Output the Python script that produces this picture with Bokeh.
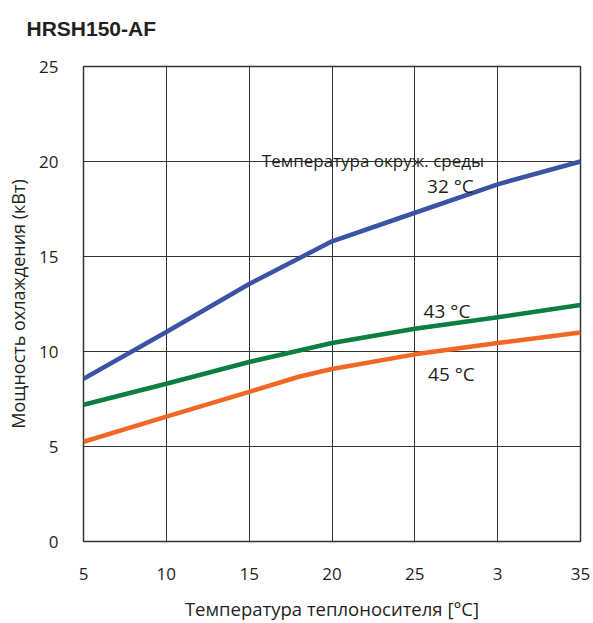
from bokeh.plotting import figure
from bokeh.models import FixedTicker, ColumnDataSource
from bokeh.core.properties import value
from bokeh.embed import file_html
from bokeh.resources import INLINE

# ---- data ----
title_text = "HRSH150-AF"
x_label = "Температура теплоносителя [°C]"
y_label = "Мощность охлаждения (кВт)"
x_ticks = [5, 10, 15, 20, 25, 30, 35]
x_tick_labels = ["5", "10", "15", "20", "25", "3", "35"]
y_ticks = [0, 5, 10, 15, 20, 25]

x_32 = [5, 10, 15, 20, 24, 30, 35]
y_32 = [8.56, 11.03, 13.55, 15.8, 17.0, 18.8, 20.0]
x_43 = [5, 10, 15, 20, 25, 30, 35]
y_43 = [7.2, 8.3, 9.45, 10.45, 11.2, 11.8, 12.45]
x_45 = [5, 10, 15, 18, 20, 25, 30, 35]
y_45 = [5.25, 6.57, 7.88, 8.67, 9.08, 9.85, 10.45, 11.0]

ann_text = ["Температура окруж. среды", "32 °C", "43 °C", "45 °C"]
ann_x = [22.47, 27.15, 26.94, 27.21]
ann_y = [20.06, 18.7, 12.13, 8.82]

FONT = "Open Sans"
TXT = "#231f20"

p = figure(width=593, height=623, x_range=(5, 35), y_range=(0, 25),
           output_backend="svg", toolbar_location=None,
           min_border_left=83, min_border_right=13,
           min_border_top=66, min_border_bottom=81)
p.background_fill_color = "white"
p.border_fill_color = "white"
p.outline_line_color = "#333333"
p.outline_line_width = 1.5

# an empty second line lifts the title towards the top of the page
p.title.text = title_text + "\n"
p.title.text_font = "Liberation Sans"
p.title.text_font_size = "21px"
p.title.text_font_style = "bold"
p.title.text_color = TXT
p.title.align = "left"
p.title.offset = -57
p.title.standoff = 8

for ax in (p.xaxis[0], p.yaxis[0]):
    ax.axis_line_color = None
    ax.major_tick_line_color = None
    ax.minor_tick_line_color = None
    ax.major_label_text_font = FONT
    ax.major_label_text_font_size = "17px"
    ax.major_label_text_color = TXT
    ax.axis_label_text_font = FONT
    ax.axis_label_text_font_style = "normal"
    ax.axis_label_text_color = TXT

p.xaxis.ticker = FixedTicker(ticks=x_ticks)
p.xaxis.major_label_overrides = {t: l for t, l in zip(x_ticks, x_tick_labels)}
p.xaxis.major_label_standoff = 20
p.xaxis.axis_label = x_label
p.xaxis.axis_label_text_font_size = "18.5px"
p.xaxis.axis_label_standoff = 13

p.yaxis.ticker = FixedTicker(ticks=y_ticks)
p.yaxis.major_label_standoff = 19
p.yaxis.axis_label = y_label
p.yaxis.axis_label_text_font_size = "18px"
p.yaxis.axis_label_standoff = 6

p.xgrid.ticker = FixedTicker(ticks=x_ticks)
p.ygrid.ticker = FixedTicker(ticks=y_ticks)
for g in (p.xgrid[0], p.ygrid[0]):
    g.grid_line_color = "#333333"
    g.grid_line_width = 1

p.line(x_32, y_32, line_color="#3a53a4", line_width=4.5)
p.line(x_43, y_43, line_color="#0a7f3f", line_width=4.5)
p.line(x_45, y_45, line_color="#f26724", line_width=4.5)

src = ColumnDataSource(dict(x=ann_x, y=ann_y, t=ann_text,
                            s=["17px", "19px", "19px", "19px"]))
p.text(x="x", y="y", text="t", source=src, text_align="center",
       text_baseline="alphabetic", text_font=value(FONT),
       text_font_size="s", text_color=TXT)

open("out.html", "w").write(file_html(p, INLINE))
